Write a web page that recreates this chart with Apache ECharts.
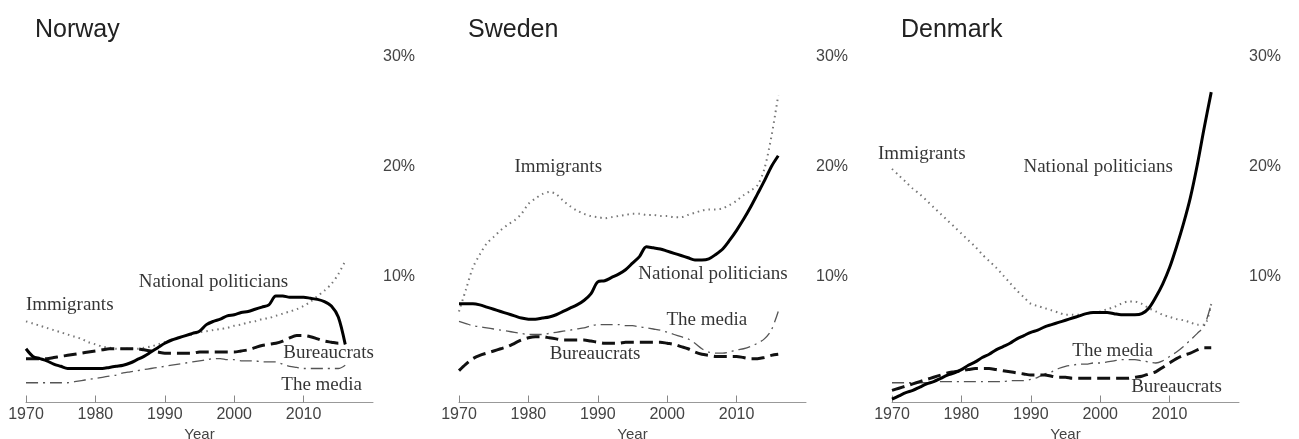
<!DOCTYPE html>
<html>
<head>
<meta charset="utf-8">
<script src="https://cdn.jsdelivr.net/npm/echarts@6/dist/echarts.min.js"></script>
<style>
  html, body { margin: 0; padding: 0; background: #fff; }
  #chart { width: 1299px; height: 439px; }
</style>
</head>
<body>
<div id="chart"></div>
<script>
// years 1970 - 2016, one value per year
const years = [1970,1971,1972,1973,1974,1975,1976,1977,1978,1979,
  1980,1981,1982,1983,1984,1985,1986,1987,1988,1989,
  1990,1991,1992,1993,1994,1995,1996,1997,1998,1999,
  2000,2001,2002,2003,2004,2005,2006,2007,2008,2009,
  2010,2011,2012,2013,2014,2015,2016];

const countries = ["Norway", "Sweden", "Denmark"];
const xTicks = [1970, 1980, 1990, 2000, 2010];
const yTicks = [10, 20, 30];

// Norway (% share)
const politiciansNO = [3.4,2.7,2.5,2.3,2.0,1.8,1.6,1.6,1.6,1.6,
  1.6,1.6,1.7,1.8,1.9,2.1,2.4,2.7,3.1,3.5,
  3.9,4.2,4.4,4.6,4.8,5.0,5.6,5.9,6.1,6.4,
  6.5,6.7,6.8,7.0,7.2,7.4,8.2,8.2,8.1,8.1,
  8.1,8.0,7.9,7.7,7.3,6.3,3.8];
const immigrantsNO = [5.9,5.7,5.5,5.3,5.1,4.9,4.7,4.5,4.3,4.0,
  3.8,3.6,3.5,3.4,3.4,3.4,3.4,3.5,3.6,3.8,
  4.0,4.2,4.4,4.6,4.7,4.9,5.0,5.1,5.2,5.3,
  5.5,5.6,5.8,5.9,6.1,6.2,6.4,6.6,6.8,7.0,
  7.3,7.7,8.2,8.7,9.3,10.2,11.4];
const bureaucratsNO = [2.5,2.5,2.5,2.5,2.6,2.7,2.8,2.9,3.0,3.1,
  3.2,3.3,3.4,3.4,3.4,3.4,3.4,3.3,3.2,3.1,
  3.0,3.0,3.0,3.0,3.0,3.1,3.1,3.1,3.1,3.1,
  3.1,3.2,3.3,3.5,3.7,3.8,3.9,4.1,4.4,4.6,
  4.6,4.5,4.3,4.1,4.0,3.9,3.9];
const mediaNO = [0.3,0.3,0.3,0.3,0.3,0.3,0.3,0.4,0.5,0.6,
  0.7,0.8,0.9,1.0,1.2,1.3,1.4,1.5,1.6,1.7,
  1.8,1.9,2.0,2.1,2.2,2.3,2.4,2.5,2.5,2.4,
  2.4,2.3,2.3,2.3,2.2,2.2,2.2,2.0,1.8,1.7,
  1.6,1.6,1.6,1.6,1.6,1.6,1.9];

// Sweden
const politiciansSE = [7.5,7.5,7.5,7.4,7.2,7.0,6.8,6.6,6.4,6.2,
  6.1,6.1,6.2,6.3,6.5,6.8,7.1,7.4,7.8,8.4,
  9.5,9.6,9.9,10.2,10.6,11.2,11.8,12.7,12.6,12.5,
  12.3,12.1,11.9,11.7,11.5,11.5,11.6,12.0,12.5,13.3,
  14.2,15.2,16.3,17.5,18.7,20.0,21.0];
const immigrantsSE = [6.8,8.8,10.8,12.0,13.0,13.6,14.2,14.7,15.1,15.7,
  16.6,17.1,17.5,17.7,17.5,16.9,16.4,16.0,15.7,15.5,
  15.4,15.3,15.4,15.5,15.6,15.7,15.7,15.6,15.6,15.5,
  15.5,15.4,15.4,15.6,15.8,16.0,16.1,16.1,16.2,16.5,
  16.9,17.4,17.8,18.3,19.8,22.7,26.5];
const bureaucratsSE = [1.4,2.0,2.5,2.8,3.0,3.2,3.4,3.6,3.9,4.2,
  4.4,4.5,4.5,4.4,4.3,4.2,4.2,4.2,4.2,4.1,
  4.0,3.9,3.9,3.9,4.0,4.0,4.0,4.0,4.0,4.0,
  3.9,3.8,3.6,3.4,3.1,2.9,2.8,2.7,2.7,2.7,
  2.7,2.6,2.5,2.5,2.6,2.8,2.9];
const mediaSE = [5.9,5.7,5.5,5.4,5.3,5.2,5.1,5.0,4.9,4.8,
  4.7,4.7,4.7,4.8,4.9,5.0,5.1,5.2,5.3,5.5,
  5.6,5.6,5.6,5.6,5.5,5.5,5.4,5.3,5.2,5.1,
  4.9,4.7,4.5,4.3,3.9,3.4,3.1,3.0,3.0,3.1,
  3.3,3.4,3.6,3.9,4.3,5.1,6.8];

// Denmark
const politiciansDK = [-1.2,-0.9,-0.6,-0.4,-0.1,0.2,0.4,0.7,1.0,1.2,
  1.5,1.9,2.2,2.6,2.9,3.3,3.6,3.9,4.3,4.6,
  4.9,5.1,5.4,5.6,5.8,6.0,6.2,6.4,6.6,6.7,
  6.7,6.7,6.6,6.5,6.5,6.5,6.6,7.1,8.1,9.3,
  10.8,12.7,14.8,17.2,20.2,23.6,26.8];
const immigrantsDK = [19.8,19.2,18.6,18.0,17.5,16.9,16.3,15.7,15.1,14.5,
  13.9,13.3,12.7,12.0,11.4,10.8,10.1,9.4,8.7,8.1,
  7.5,7.3,7.1,6.9,6.7,6.5,6.5,6.5,6.6,6.7,
  6.8,7.0,7.2,7.5,7.7,7.7,7.5,7.1,6.8,6.5,
  6.3,6.1,6.0,5.8,5.6,5.6,7.5];
const bureaucratsDK = [-0.4,-0.2,0.0,0.2,0.4,0.6,0.8,1.0,1.2,1.3,
  1.4,1.5,1.6,1.6,1.6,1.5,1.4,1.3,1.2,1.1,
  1.0,1.0,1.0,0.9,0.8,0.8,0.7,0.7,0.7,0.7,
  0.7,0.7,0.7,0.7,0.7,0.8,0.9,1.1,1.3,1.7,
  2.1,2.5,2.8,3.0,3.3,3.5,3.5];
const mediaDK = [0.3,0.3,0.3,0.3,0.3,0.3,0.4,0.4,0.4,0.4,
  0.4,0.4,0.4,0.4,0.4,0.4,0.4,0.5,0.5,0.5,
  0.6,0.8,1.1,1.3,1.6,1.8,1.9,2.0,2.0,2.1,
  2.1,2.2,2.3,2.4,2.4,2.4,2.3,2.2,2.1,2.3,
  2.7,3.1,3.6,4.2,4.8,5.5,7.5];

// where the series names are written, in data units [year, %]
const namesNO = [["National politicians", 1997.0, 9.5], ["Immigrants", 1976.3, 7.4],
  ["Bureaucrats", 2013.6, 3.0], ["The media", 2012.6, 0.1]];
const namesSE = [["Immigrants", 1984.3, 20.0], ["National politicians", 2006.6, 10.2],
  ["The media", 2005.7, 6.0], ["Bureaucrats", 1989.6, 2.9]];
const namesDK = [["Immigrants", 1974.3, 21.2], ["National politicians", 1999.7, 20.0],
  ["The media", 2001.8, 3.2], ["Bureaucrats", 2011.0, -0.1]];

const panelData = [
  { politicians: politiciansNO, immigrants: immigrantsNO, bureaucrats: bureaucratsNO, media: mediaNO, names: namesNO },
  { politicians: politiciansSE, immigrants: immigrantsSE, bureaucrats: bureaucratsSE, media: mediaSE, names: namesSE },
  { politicians: politiciansDK, immigrants: immigrantsDK, bureaucrats: bureaucratsDK, media: mediaDK, names: namesDK }
];

const sans = "'Liberation Sans', Arial, Helvetica, sans-serif";
const serif = "'Liberation Serif', 'Times New Roman', serif";

const lineStyles = {
  politicians: { color: "#000", width: 3, type: "solid" },
  immigrants: { color: "#777", width: 2, type: [1.5, 4] },
  bureaucrats: { color: "#111", width: 3, type: [13, 6] },
  media: { color: "#555", width: 1.3, type: [12, 5, 2, 5] }
};

let option = {
  animation: false,
  backgroundColor: "#fff",
  title: [],
  grid: [],
  xAxis: [],
  yAxis: [],
  series: []
};

countries.forEach((name, i) => {
  let left = 26 + 433 * i;
  option.title.push({
    text: name, left: left + 4, top: 13,
    textStyle: { fontFamily: sans, fontSize: 25, fontWeight: "normal", color: "#222" }
  });
  option.grid.push({ left: left, top: 57, width: 347, height: 345.5, outerBoundsMode: "none" });
  option.xAxis.push({
    type: "value", gridIndex: i, min: 1970, max: 2020,
    name: "Year", nameLocation: "middle", nameGap: 24,
    nameTextStyle: { fontFamily: sans, fontSize: 15, color: "#444" },
    axisLine: { onZero: false, lineStyle: { color: "#999", width: 1 } },
    axisTick: { show: true, inside: true, length: 7, customValues: xTicks, lineStyle: { color: "#888" } },
    axisLabel: { customValues: xTicks, formatter: v => String(v), fontFamily: sans, fontSize: 16, color: "#444", margin: 4 },
    splitLine: { show: false }
  });
  option.yAxis.push({
    type: "value", gridIndex: i, position: "right", min: -1.5, max: 30,
    axisLine: { show: false },
    axisTick: { show: false },
    axisLabel: { customValues: yTicks, formatter: "{value}%", fontFamily: sans, fontSize: 16, color: "#444", margin: 10 },
    splitLine: { show: false }
  });

  let d = panelData[i];
  ["immigrants", "media", "bureaucrats", "politicians"].forEach(key => {
    option.series.push({
      type: "line", xAxisIndex: i, yAxisIndex: i,
      data: years.map((y, k) => [y, d[key][k]]),
      showSymbol: false, smooth: 0.3,
      lineStyle: lineStyles[key]
    });
  });
  // series names as text at data positions
  option.series.push({
    type: "scatter", xAxisIndex: i, yAxisIndex: i,
    symbolSize: 0, silent: true,
    data: d.names.map(n => ({ value: [n[1], n[2]], name: n[0] })),
    label: {
      show: true, position: "inside", formatter: p => p.name,
      fontFamily: serif, fontSize: 19, color: "#000"
    }
  });
});

let myChart = echarts.init(document.querySelector("#chart"), null, { renderer: "canvas" });
myChart.setOption(option);
</script>
</body>
</html>
